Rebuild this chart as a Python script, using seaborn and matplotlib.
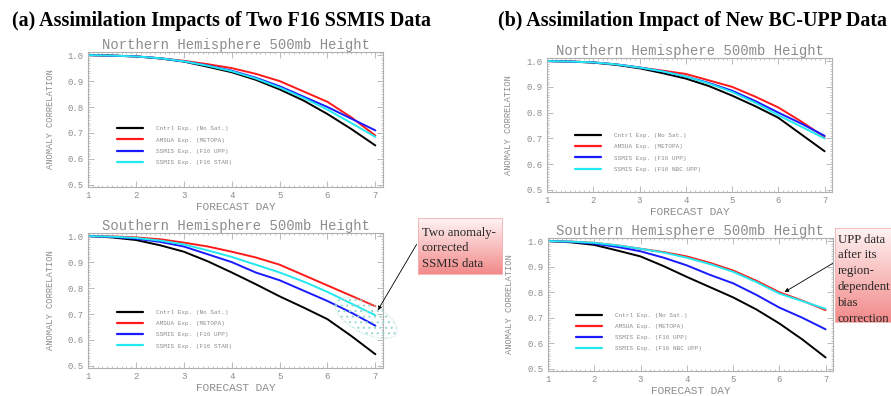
"""
Anomaly correlation of 500mb height forecasts:
two F16 SSMIS data sets and the new BC-UPP data.
"""

import numpy as np
import matplotlib
matplotlib.use("Agg")
import matplotlib.pyplot as plt
import seaborn as sns
from matplotlib.patches import Ellipse
from matplotlib.transforms import IdentityTransform
from matplotlib.ticker import MultipleLocator


# -----------------------------------
# Data
# -----------------------------------

days = [1, 1.5, 2, 2.5, 3, 3.5, 4, 4.5, 5, 5.5, 6, 6.5, 7]

labels_a = ["Cntrl Exp. (No Sat.)", "AMSUA Exp. (METOPA)",
            "SSMIS Exp. (F16 UPP)", "SSMIS Exp. (F16 STAR)"]
labels_b = ["Cntrl Exp. (No Sat.)", "AMSUA Exp. (METOPA)",
            "SSMIS Exp. (F16 UPP)", "SSMIS Exp. (F16 NBC UPP)"]

# (a) Northern Hemisphere
nh_a_ctrl = [1.0, 0.998, 0.995, 0.987, 0.975, 0.955, 0.934, 0.905, 0.868, 0.825, 0.773, 0.715, 0.652]
nh_a_amsu = [1.0, 0.998, 0.995, 0.988, 0.978, 0.965, 0.950, 0.928, 0.900, 0.860, 0.820, 0.760, 0.690]
nh_a_upp = [1.0, 0.998, 0.995, 0.988, 0.976, 0.960, 0.940, 0.913, 0.880, 0.840, 0.800, 0.755, 0.710]
nh_a_star = [1.0, 0.998, 0.995, 0.988, 0.976, 0.959, 0.938, 0.910, 0.875, 0.835, 0.790, 0.738, 0.685]

# (a) Southern Hemisphere
sh_a_ctrl = [1.0, 0.995, 0.985, 0.965, 0.940, 0.903, 0.860, 0.815, 0.768, 0.725, 0.680, 0.615, 0.545]
sh_a_amsu = [1.0, 0.999, 0.995, 0.988, 0.975, 0.960, 0.940, 0.918, 0.890, 0.850, 0.810, 0.770, 0.730]
sh_a_upp = [1.0, 0.997, 0.990, 0.978, 0.960, 0.930, 0.900, 0.860, 0.830, 0.790, 0.750, 0.705, 0.655]
sh_a_star = [1.0, 0.998, 0.993, 0.983, 0.968, 0.945, 0.920, 0.890, 0.860, 0.825, 0.785, 0.740, 0.695]

# (b) Northern Hemisphere
nh_b_ctrl = [1.0, 0.998, 0.994, 0.985, 0.972, 0.953, 0.932, 0.903, 0.866, 0.825, 0.780, 0.715, 0.650]
nh_b_amsu = [1.0, 0.998, 0.995, 0.987, 0.975, 0.963, 0.950, 0.925, 0.900, 0.862, 0.820, 0.765, 0.705]
nh_b_upp = [1.0, 0.998, 0.995, 0.987, 0.975, 0.960, 0.940, 0.915, 0.885, 0.845, 0.800, 0.757, 0.710]
nh_b_nbc = [1.0, 0.998, 0.995, 0.987, 0.975, 0.960, 0.940, 0.913, 0.880, 0.838, 0.790, 0.745, 0.700]

# (b) Southern Hemisphere
sh_b_ctrl = [1.0, 0.995, 0.985, 0.963, 0.940, 0.902, 0.860, 0.820, 0.780, 0.733, 0.678, 0.615, 0.545]
sh_b_amsu = [1.0, 0.998, 0.993, 0.983, 0.970, 0.957, 0.940, 0.915, 0.885, 0.845, 0.800, 0.767, 0.730]
sh_b_upp = [1.0, 0.997, 0.990, 0.977, 0.960, 0.935, 0.905, 0.868, 0.835, 0.790, 0.740, 0.700, 0.655]
sh_b_nbc = [1.0, 0.998, 0.993, 0.983, 0.970, 0.955, 0.935, 0.910, 0.880, 0.840, 0.795, 0.765, 0.735]

colors = ["black", "#ff1a1a", "#1a1aff", "#22e8f0"]


# -----------------------------------
# Style
# -----------------------------------

sns.set_theme(style="ticks")
plt.rcParams["font.family"] = ["Liberation Mono", "DejaVu Sans Mono"]
plt.rcParams["hatch.linewidth"] = 0.8

GRAY = "#8c8c8c"

fig = plt.figure(figsize=(8.91, 3.96), dpi=100)

ax_nh_a = fig.add_axes([0.0988, 0.5278, 0.3311, 0.3409])
ax_sh_a = fig.add_axes([0.0988, 0.0707, 0.3311, 0.3409])
ax_nh_b = fig.add_axes([0.6139, 0.5152, 0.3199, 0.3384])
ax_sh_b = fig.add_axes([0.6150, 0.0631, 0.3199, 0.3359])


def draw_panel(ax, series, labels, title, ylab_x, legend_y):
    for vals, lab, col in zip(series, labels, colors):
        sns.lineplot(x=days, y=vals, color=col, label=lab,
                     linewidth=1.4, ax=ax)

    ax.set_xlim(1.0, 7.16)
    ax.set_ylim(0.492, 1.012)
    ax.xaxis.set_major_locator(MultipleLocator(1))
    ax.xaxis.set_minor_locator(MultipleLocator(0.1))
    ax.yaxis.set_major_locator(MultipleLocator(0.1))
    ax.yaxis.set_minor_locator(MultipleLocator(0.01))
    ax.yaxis.set_major_formatter(plt.FormatStrFormatter("%.1f"))

    ax.tick_params(which="both", direction="in", top=True, right=True,
                   color="#b0b0b0", labelcolor=GRAY, labelsize=6.5)
    ax.tick_params(which="major", length=4, width=0.6, pad=3)
    ax.tick_params(which="minor", length=1.6, width=0.5)
    for sp in ax.spines.values():
        sp.set_color("#b0b0b0")
        sp.set_linewidth(0.8)

    ax.set_title(title, fontsize=10, color=GRAY, pad=2)
    ax.set_xlabel("FORECAST DAY", fontsize=8, color=GRAY, labelpad=1)
    ax.set_ylabel("ANOMALY CORRELATION", fontsize=6.3, color=GRAY)
    ax.yaxis.set_label_coords(ylab_x, 0.5)

    leg = ax.legend(loc="upper left", bbox_to_anchor=(0.08, legend_y),
                    frameon=False, fontsize=4.3, handlelength=4.3,
                    handletextpad=2.2, labelspacing=1.0)
    for t in leg.get_texts():
        t.set_color(GRAY)
    for h in leg.get_lines():
        h.set_linewidth(1.6)


draw_panel(ax_nh_a, [nh_a_ctrl, nh_a_amsu, nh_a_upp, nh_a_star], labels_a,
           "Northern Hemisphere 500mb Height", -0.112, 0.49)
draw_panel(ax_sh_a, [sh_a_ctrl, sh_a_amsu, sh_a_upp, sh_a_star], labels_a,
           "Southern Hemisphere 500mb Height", -0.112, 0.47)
draw_panel(ax_nh_b, [nh_b_ctrl, nh_b_amsu, nh_b_upp, nh_b_nbc], labels_b,
           "Northern Hemisphere 500mb Height", -0.12, 0.48)
draw_panel(ax_sh_b, [sh_b_ctrl, sh_b_amsu, sh_b_upp, sh_b_nbc], labels_b,
           "Southern Hemisphere 500mb Height", -0.12, 0.48)


# -----------------------------------
# Panel titles
# -----------------------------------

fig.text(0.013, 0.948, "(a) Assimilation Impacts of Two F16 SSMIS Data",
         family="Liberation Serif", weight="bold", fontsize=14.4,
         color="black", va="center", ha="left")
fig.text(0.559, 0.948, "(b) Assimilation Impact of New BC-UPP Data",
         family="Liberation Serif", weight="bold", fontsize=14.4,
         color="black", va="center", ha="left")


# -----------------------------------
# Callout boxes
# -----------------------------------

gradient = np.linspace(0, 1, 100).reshape(-1, 1)
pink = matplotlib.colors.LinearSegmentedColormap.from_list(
    "pink", ["#fff4f4", "#f28a8a"])


def callout(rect, text, x_txt, y_txt):
    bax = fig.add_axes(rect)
    bax.imshow(gradient, aspect="auto", cmap=pink)
    bax.set_xticks([])
    bax.set_yticks([])
    for sp in bax.spines.values():
        sp.set_color("#f4b0b0")
        sp.set_linewidth(0.6)
    fig.text(x_txt, y_txt, text, family="Liberation Serif", fontsize=9.2,
             va="top", ha="left", linespacing=1.42)


callout([0.4691, 0.3081, 0.0943, 0.1414],
        "Two anomaly-\ncorrected\nSSMIS data", 0.4735, 0.428)
callout([0.9371, 0.1869, 0.0640, 0.2374],
        "UPP data\nafter its\nregion-\ndependent\nbias\ncorrection",
        0.9405, 0.41)

ax_sh_a.annotate("", xy=(7.02, 0.705), xytext=(418, 396 - 242),
                 textcoords="figure pixels",
                 arrowprops=dict(arrowstyle="-|>", color="black", lw=0.6,
                                 mutation_scale=6))
ax_sh_b.annotate("", xy=(6.06, 0.795), xytext=(835, 396 - 262),
                 textcoords="figure pixels",
                 arrowprops=dict(arrowstyle="-|>", color="black", lw=0.6,
                                 mutation_scale=6))

# dotted ellipse around the SSMIS curve ends
ell = Ellipse((366, 396 - 318), 68, 30, angle=-27,
              transform=IdentityTransform(), facecolor="none",
              edgecolor="#9ad8cf", hatch="...", linestyle=":",
              linewidth=0.6)
fig.add_artist(ell)

fig.savefig("out.png", dpi=100)
